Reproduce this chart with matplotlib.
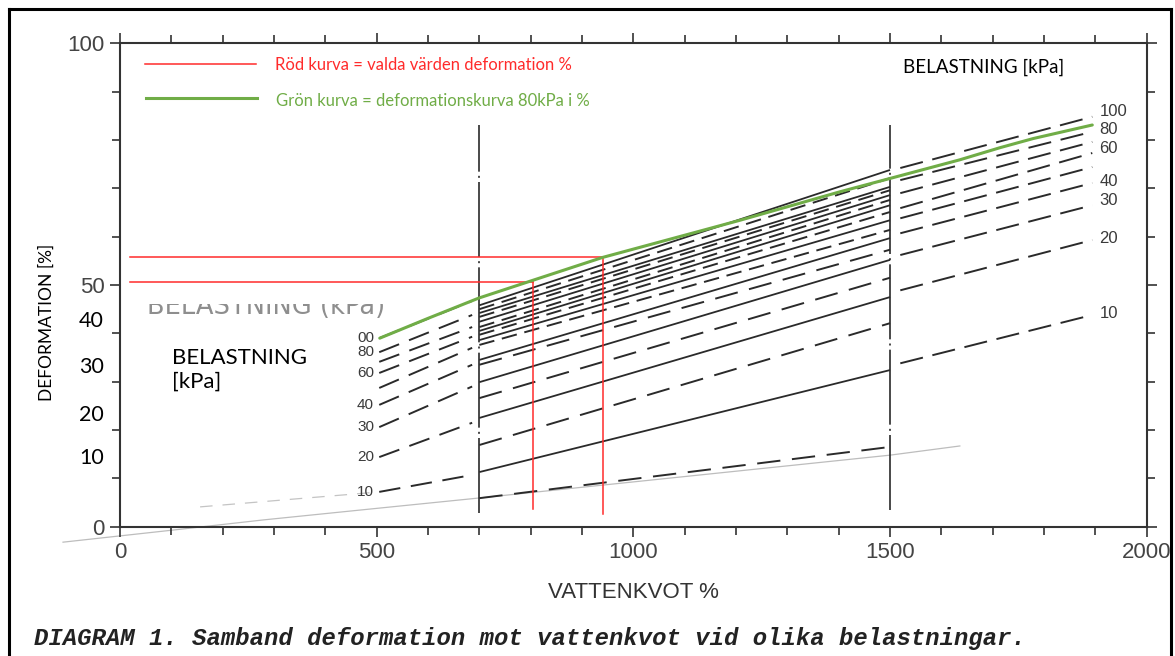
import matplotlib
matplotlib.use("Agg")
import matplotlib.pyplot as plt
from matplotlib.lines import Line2D
from matplotlib.transforms import Bbox, TransformedBbox
from matplotlib.ticker import FixedLocator, MultipleLocator, NullFormatter

W, H = 1175, 656

# ---------------------------------------------------------------- data
# Left family of load curves (belastning, kPa), vattenkvot 500-690 %
left_x = [505, 686]
left_start = [7.2, 14.4, 20.6, 25.2, 28.7, 31.8, 34.1, 36.1, 39.0]
left_end = [10.7, 21.5, 29.0, 33.5, 37.0, 39.3, 41.3, 43.8, 46.7]
left_labels = ["10", "20", "30", "40", "", "60", "", "80", "00"]

# Middle family, vattenkvot 700-1500 %
mid_x = [700, 1500]
mid_start = [5.9, 11.3, 16.9, 22.5, 26.6, 29.9, 33.5, 34.5, 37.6,
             38.6, 39.7, 40.5, 41.3, 42.4, 43.4, 44.2, 45.0, 45.8]
mid_end = [16.5, 32.4, 42.1, 47.5, 51.5, 55.2, 57.3, 59.7, 61.4,
           63.4, 65.1, 66.5, 67.6, 68.6, 69.6, 70.3, 72.1, 73.8]

# Right family, vattenkvot 1520-1894 %
right_x = [1520, 1894]
right_start = [33.8, 48.9, 56.2, 60.7, 63.8, 65.9, 69.0, 71.7, 74.2]
right_end = [43.8, 59.3, 66.5, 71.1, 74.4, 77.3, 79.6, 81.7, 84.8]
right_labels = ["10", "20", "30", "40", "", "", "60", "80", "100"]

# Green curve: deformation curve for 80 kPa
green_x = [506, 600, 699, 805, 940, 1208, 1403, 1502, 1636, 1714, 1779, 1894]
green_y = [39.0, 43.1, 47.3, 51.0, 55.7, 63.4, 69.3, 72.1, 75.9, 78.4, 80.3, 83.1]

# Red curve: chosen deformation values
red_x0 = 20
red_x = [805, 940]
red_y = [50.7, 55.7]
red_bottom = [3.7, 2.6]

# Dash-dot dividers between the curve families
divider_x = [700, 1500]
divider_top = 83.0
divider_bottom = [2.8, 3.4]

# Faint pencil lines near the origin
faint_x = [-111, 103, 279, 473, 696, 1500, 1636]
faint_y = [-3.2, -0.7, 1.4, 3.5, 5.9, 14.8, 16.7]
faint_dash_x = [156, 506]
faint_dash_y = [4.1, 7.2]

x_major = [0, 500, 1000, 1500, 2000]
y_major = [0, 50, 100]
extra_y_labels = ["40", "30", "20", "10"]

# ---------------------------------------------------------------- style
INK = "#2a2a2a"
AXC = "#333333"
RED = "#ff2b2b"
GREEN = "#70ad47"
SANS = ["Liberation Sans", "DejaVu Sans"]
CAL = ["Lato", "DejaVu Sans"]

# spread-out label heights for the right-hand curve labels
right_label_pos = {"100": 85.8, "80": 82.2, "60": 78.3, "40": 71.5,
                   "30": 67.5, "20": 59.7, "10": 44.2}


def fx(p):
    return p / W


def fy(p):
    return 1 - p / H


fig = plt.figure(figsize=(W / 100, H / 100), dpi=100)
fig.patch.set_facecolor("white")
ax = fig.add_axes([fx(120), fy(526.7), fx(1146.7) - fx(120), fy(43.3) - fy(526.7)])
ax.set_xlim(0, 2000)
ax.set_ylim(0, 100)

for s in ax.spines.values():
    s.set_color(AXC)
    s.set_linewidth(1.5)

ax.xaxis.set_major_locator(FixedLocator(x_major))
ax.xaxis.set_minor_locator(MultipleLocator(100))
ax.yaxis.set_major_locator(FixedLocator(y_major))
ax.yaxis.set_minor_locator(MultipleLocator(10))
ax.xaxis.set_minor_formatter(NullFormatter())
ax.yaxis.set_minor_formatter(NullFormatter())
ax.tick_params(which="both", direction="out", top=True, right=True,
               color=AXC, width=1.2)
ax.tick_params(which="major", length=7, labelsize=16, labelcolor="#444444", pad=4)
ax.tick_params(which="minor", length=6)
for lab in ax.get_xticklabels() + ax.get_yticklabels():
    lab.set_fontfamily(SANS)

ax.set_xlabel("VATTENKVOT %", fontsize=16, color=AXC, family=SANS, labelpad=14)

# faint pencil lines
ax.plot(faint_x, faint_y, color="#bdbdbd", lw=0.9, clip_on=False, zorder=1)
ax.plot(faint_dash_x, faint_dash_y, color="#c4c4c4", lw=0.9,
        dashes=(10, 8), clip_on=False, zorder=1)

# dividers
for xv, yb in zip(divider_x, divider_bottom):
    ax.plot([xv, xv], [yb, divider_top], color=INK, lw=1.2,
            linestyle=(0, (45, 2.5, 1.2, 2.5)), zorder=2)

# left family
for ys, ye, lab in zip(left_start, left_end, left_labels):
    ax.plot(left_x, [ys, ye], color=INK, lw=1.4, dashes=(11, 5.5), zorder=3)
    if lab:
        ax.text(left_x[0] - 10, ys, lab, ha="right", va="center",
                fontsize=11, color="#3a3a3a", family=SANS)

# middle family
for i, (ys, ye) in enumerate(zip(mid_start, mid_end)):
    if i % 2 == 1:
        ax.plot(mid_x, [ys, ye], color=INK, lw=1.3, solid_capstyle="butt", zorder=3)
    elif i < 8:
        ax.plot(mid_x, [ys, ye], color=INK, lw=1.4, dashes=(12, 6), zorder=3)
    else:
        ax.plot(mid_x, [ys, ye], color=INK, lw=1.4, dashes=(8, 4), zorder=3)

# right family
for ys, ye, lab in zip(right_start, right_end, right_labels):
    ax.plot(right_x, [ys, ye], color=INK, lw=1.4, dashes=(12, 5), zorder=3)
    if lab:
        ax.text(right_x[1] + 14, right_label_pos[lab], lab, ha="left", va="center",
                fontsize=12, color="#3a3a3a", family=SANS)

# red construction lines
for xv, yv, yb in zip(red_x, red_y, red_bottom):
    ax.plot([red_x0, xv], [yv, yv], color=RED, lw=1.1, zorder=5)
    ax.plot([xv, xv], [yb, yv], color=RED, lw=1.1, zorder=5)

# green curve
ax.plot(green_x, green_y, color=GREEN, lw=2.2, zorder=6, solid_capstyle="round")

# ---------------------------------------------------------------- annotations
# faded original caption, only its lower half showing
ghost = fig.text(fx(147), fy(314), "BELASTNING (kPa)", ha="left", va="baseline",
                 fontsize=18.5, color="#8e8e8e", family=["DejaVu Sans"])
ghost.set_clip_box(TransformedBbox(Bbox([[fx(140), fy(330)], [fx(400), fy(304)]]),
                                   fig.transFigure))
ghost.set_clip_on(True)

# legend
fig.add_artist(Line2D([fx(145), fx(256)], [fy(64), fy(64)], color=RED, lw=1.1))
fig.add_artist(Line2D([fx(146), fx(257)], [fy(98), fy(98)], color=GREEN, lw=2.2))
fig.text(fx(275), fy(65), "Röd kurva = valda värden deformation %", ha="left",
         va="center", fontsize=12, color=RED, family=CAL)
fig.text(fx(276), fy(101), "Grön kurva = deformationskurva 80kPa i %", ha="left",
         va="center", fontsize=12, color=GREEN, family=CAL)
fig.text(fx(903), fy(67), "BELASTNING [kPa]", ha="left", va="center",
         fontsize=13.5, color="black", family=CAL)

fig.text(fx(172), fy(370), "BELASTNING\n[kPa]", ha="left", va="center",
         fontsize=16, color="black", family=CAL, linespacing=1.25)
fig.text(fx(47), fy(322), "DEFORMATION [%]", ha="center", va="center",
         rotation=90, fontsize=12.5, color="black", family=CAL)
for lab, yp in zip(extra_y_labels, [321, 367, 415, 458]):
    fig.text(fx(104), fy(yp), lab, ha="right", va="center",
             fontsize=15.5, color="black", family=CAL)

fig.text(fx(34), fy(639), "DIAGRAM 1. Samband deformation mot vattenkvot vid olika belastningar.",
         ha="left", va="center", fontsize=17.2, color="#222222",
         family=["Liberation Mono", "DejaVu Sans Mono"], style="italic", weight="bold")

# outer frame
fig.add_artist(Line2D([fx(8.5), fx(8.5)], [fy(660), fy(9)], color="black", lw=2.2))
fig.add_artist(Line2D([fx(8.5), fx(1171)], [fy(9), fy(9)], color="black", lw=2.2))
fig.add_artist(Line2D([fx(1171), fx(1171)], [fy(9), fy(660)], color="black", lw=2.2))

fig.savefig("out.png", dpi=100, facecolor="white")
